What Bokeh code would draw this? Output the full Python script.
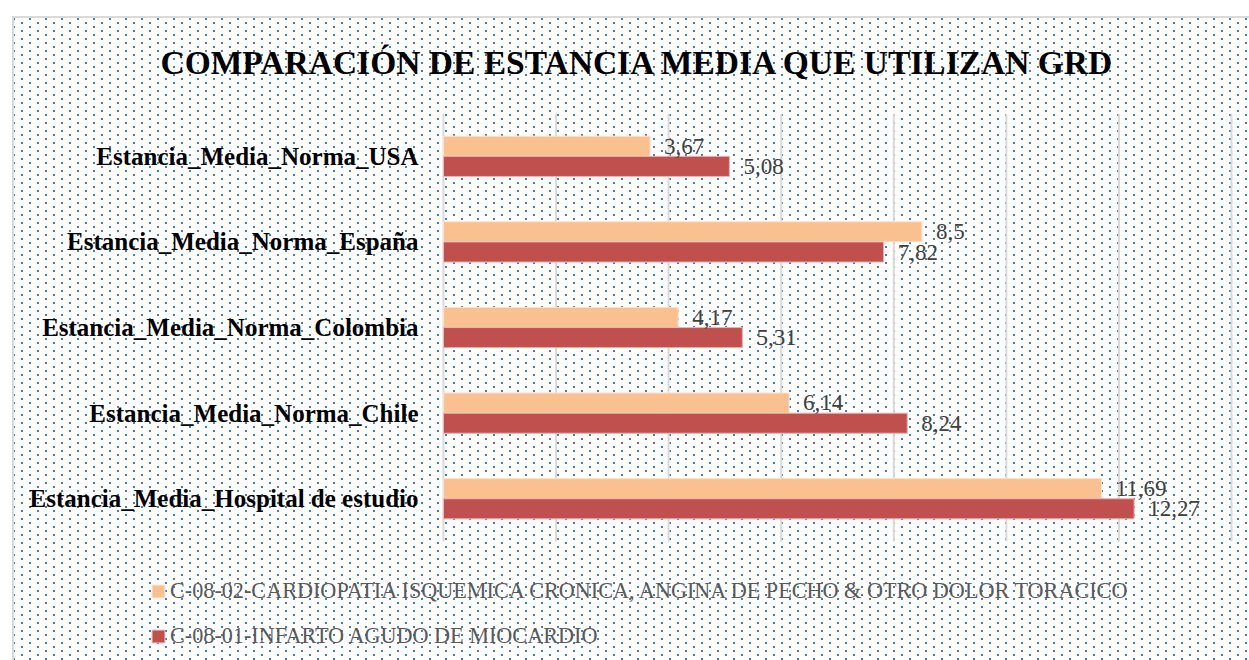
from bokeh.plotting import figure
from bokeh.models import ColumnDataSource, Range1d, Legend, LegendItem
from bokeh.transform import dodge
from bokeh.core.properties import value
from bokeh.embed import file_html
from bokeh.resources import INLINE

# ---- data ----
categories = [
    "Estancia_Media_Norma_USA",
    "Estancia_Media_Norma_España",
    "Estancia_Media_Norma_Colombia",
    "Estancia_Media_Norma_Chile",
    "Estancia_Media_Hospital de estudio",
]
cardiopatia = [3.67, 8.5, 4.17, 6.14, 11.69]
infarto = [5.08, 7.82, 5.31, 8.24, 12.27]
series_names = [
    "C-08-02-CARDIOPATIA ISQUEMICA CRONICA, ANGINA DE PECHO & OTRO DOLOR TORACICO",
    "C-08-01-INFARTO AGUDO DE MIOCARDIO",
]
x_ticks = [0, 2, 4, 6, 8, 10, 12, 14]
title_text = "COMPARACIÓN DE ESTANCIA MEDIA QUE UTILIZAN GRD"


def fmt(v):
    return f"{v:g}".replace(".", ",")


n = len(categories)
# category slots: first category at the top
ypos = [n - 1 - i for i in range(n)]

src = ColumnDataSource(dict(
    cat=categories,
    yc=ypos,
    a=cardiopatia,
    b=infarto,
    a_lbl=[fmt(v) for v in cardiopatia],
    b_lbl=[fmt(v) for v in infarto],
))
grid_src = ColumnDataSource(dict(
    t=x_ticks,
    lo=[-0.5] * len(x_ticks),
    hi=[n - 0.5] * len(x_ticks),
))

SERIF = "Liberation Serif"
ORANGE = "#fac090"
RED = "#c0504d"
ORANGE_EDGE = "#fde3cc"
RED_EDGE = "#eab5b3"

# screen geometry (px): value axis 0..14 spans 443..1231, slots 85.6 px tall
PX_PER_X = 788 / 14.0
X0_PX = 443
W, H_FIG = 1249, 660
TOP = 113
SLOT = 85.6
x_start = -X0_PX / PX_PER_X
x_end = (W - X0_PX) / PX_PER_X
y_top = (n - 0.5)
y_bottom = y_top - (H_FIG - TOP) / SLOT

GRAY = "linear-gradient(#d9d9d9,#d9d9d9)"
WHITE = "linear-gradient(#ffffff,#ffffff)"
DOTS = ("url(\"data:image/svg+xml;utf8,<svg xmlns='http://www.w3.org/2000/svg' "
        "width='16' height='8'><rect x='0' y='0' width='2' height='2' fill='%234a7ebb'/>"
        "<rect x='8' y='4' width='2' height='2' fill='%234a7ebb'/></svg>\")")

p = figure(
    width=W, height=H_FIG,
    x_range=Range1d(x_start, x_end), y_range=Range1d(y_bottom, y_top),
    output_backend="svg", toolbar_location=None,
    min_border_left=0, min_border_right=0, min_border_bottom=0,
    min_border_top=TOP,
    x_axis_location=None, y_axis_location=None,
    title=title_text,
)
p.styles = {
    "background-color": "#ffffff",
    "background-image": f"{WHITE}, {WHITE}, {GRAY}, {GRAY}, {DOTS}",
    "background-size": "12px 100%, 100% 16px, 2px 100%, 100% 2px, 16px 8px",
    "background-position": "0 0, 0 0, 12px 16px, 12px 16px, 13px 2px",
    "background-repeat": "no-repeat, no-repeat, no-repeat, no-repeat, repeat",
}
p.background_fill_alpha = 0
p.border_fill_alpha = 0
p.outline_line_color = None
p.grid.visible = False

# title
p.title.text_font = SERIF
p.title.text_font_style = "bold"
p.title.text_font_size = "33.5px"
p.title.text_color = "#000000"
p.title.align = "left"
p.title.offset = 160
p.title.standoff = 66

# vertical gridlines over the category band
p.segment(x0="t", x1="t", y0="lo", y1="hi", source=grid_src,
          line_color="#d9d9d9", line_width=2)

BH = 0.235
OFF = 0.118
r_a = p.hbar(y=dodge("yc", OFF), right="a", left=0, height=BH, source=src,
             fill_color=ORANGE, line_color=ORANGE_EDGE, line_width=1)
r_b = p.hbar(y=dodge("yc", -OFF), right="b", left=0, height=BH, source=src,
             fill_color=RED, line_color=RED_EDGE, line_width=1)

# category labels
p.text(x=0, y="yc", text="cat", source=src, x_offset=-25,
       text_align="right", text_baseline="middle",
       text_font=value(SERIF), text_font_style="bold", text_font_size="25px",
       text_color="#000000")

# data labels
p.text(x="a", y=dodge("yc", OFF), text="a_lbl", source=src,
       x_offset=14, text_baseline="middle", text_align="left",
       text_font=value(SERIF), text_font_size="23px", text_color="#404040")
p.text(x="b", y=dodge("yc", -OFF), text="b_lbl", source=src,
       x_offset=14, text_baseline="middle", text_align="left",
       text_font=value(SERIF), text_font_size="23px", text_color="#404040")

legend = Legend(
    items=[LegendItem(label=series_names[0], renderers=[r_a]),
           LegendItem(label=series_names[1], renderers=[r_b])],
    location=(150, 11),
    orientation="vertical",
    glyph_width=16, glyph_height=16,
    label_height=24, spacing=19, label_standoff=4,
    padding=0, margin=0,
    label_text_font=SERIF, label_text_font_size="22.2px", label_text_color="#595959",
    background_fill_alpha=0, border_line_alpha=0,
)
p.add_layout(legend, "center")

open("out.html", "w").write(file_html(p, INLINE))
